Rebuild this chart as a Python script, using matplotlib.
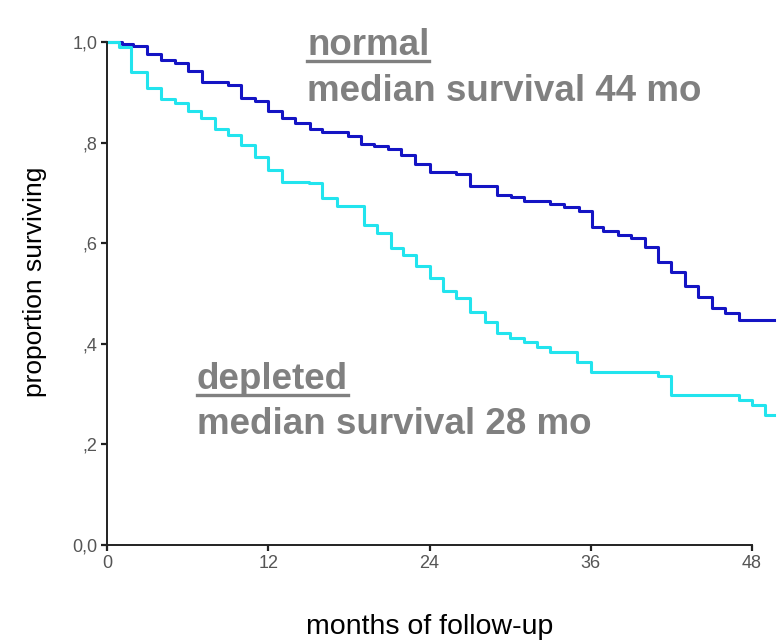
import matplotlib
matplotlib.use('Agg')
import matplotlib.pyplot as plt
from matplotlib.lines import Line2D

# Kaplan-Meier steps (months, proportion surviving)
normal_t = [0, 1.1, 1.9, 2.95, 4.0, 5.05, 6.0, 7.05, 9.0, 10.0, 11.0, 12.0, 13.0, 14.0,
            15.1, 16.0, 17.9, 18.9, 19.9, 20.9, 21.9, 22.9, 24.0, 26.0, 27.0, 29.0, 30.1,
            31.0, 33.0, 34.0, 35.1, 36.1, 36.9, 38.0, 39.0, 40.0, 41.0, 42.0, 43.0, 44.0,
            45.0, 46.0, 47.0, 49.6]
normal_s = [1.0, 0.997, 0.993, 0.977, 0.964, 0.958, 0.943, 0.921, 0.914, 0.888, 0.883, 0.862,
            0.848, 0.838, 0.828, 0.822, 0.813, 0.798, 0.793, 0.787, 0.775, 0.757, 0.741, 0.738,
            0.714, 0.696, 0.691, 0.684, 0.678, 0.671, 0.665, 0.633, 0.625, 0.616, 0.610, 0.592,
            0.563, 0.543, 0.514, 0.494, 0.471, 0.461, 0.447, 0.447]

depleted_t = [0, 0.9, 1.8, 3.0, 4.0, 5.05, 6.05, 7.0, 8.0, 9.0, 10.0, 11.0, 12.0, 13.0, 15.0,
              16.0, 17.1, 19.1, 20.1, 21.1, 22.0, 23.0, 24.0, 25.0, 26.0, 27.0, 28.1, 29.0,
              30.0, 31.0, 32.0, 33.0, 35.0, 36.0, 41.0, 42.0, 47.0, 48.0, 49.0, 49.6]
depleted_s = [1.0, 0.991, 0.941, 0.908, 0.886, 0.879, 0.862, 0.848, 0.828, 0.815, 0.795, 0.772,
              0.746, 0.722, 0.719, 0.689, 0.673, 0.636, 0.620, 0.590, 0.577, 0.555, 0.531, 0.504,
              0.491, 0.464, 0.444, 0.421, 0.411, 0.404, 0.394, 0.384, 0.364, 0.344, 0.335, 0.298,
              0.288, 0.278, 0.258, 0.258]

x_ticks = [0, 12, 24, 36, 48]
y_ticks = [0.0, 0.2, 0.4, 0.6, 0.8, 1.0]
y_labels = ['0,0', ',2', ',4', ',6', ',8', '1,0']

W, H = 782, 644
narrow = ['Liberation Sans Narrow', 'Liberation Sans', 'DejaVu Sans']
bold = ['Liberation Sans', 'DejaVu Sans']

fig = plt.figure(figsize=(W / 100, H / 100), dpi=100)
ax = fig.add_axes([107 / W, (H - 545) / H, (752 - 107) / W, (545 - 42) / H])

ax.plot(normal_t, normal_s, drawstyle='steps-post', color='#1414c4', lw=2.2, clip_on=False)
ax.plot(depleted_t, depleted_s, drawstyle='steps-post', color='#22e4ee', lw=2.2, clip_on=False)

ax.set_xlim(0, 48)
ax.set_ylim(0, 1)
ax.spines['top'].set_visible(False)
ax.spines['right'].set_visible(False)
for s in ['left', 'bottom']:
    ax.spines[s].set_linewidth(1.4)
    ax.spines[s].set_color('#222222')

ax.set_xticks(x_ticks)
ax.set_xticklabels([str(v) for v in x_ticks], family=narrow, fontsize=13)
ax.set_yticks(y_ticks)
ax.set_yticklabels(y_labels, family=narrow, fontsize=13)
ax.tick_params(direction='out', length=4, width=1.6, colors='#222222', pad=3)
for lab in ax.get_xticklabels() + ax.get_yticklabels():
    lab.set_color('#555555')

fig.text(35 / W, (H - 282) / H, 'proportion surviving', rotation=90, ha='center', va='center',
         family=narrow, fontsize=19)
fig.text(430 / W, (H - 627) / H, 'months of follow-up', ha='center', va='center',
         family=narrow, fontsize=20.5)

grey = '#808080'

def label(x, y_head, y_med, head, med):
    t = fig.text(x / W, (H - y_head) / H, head, ha='left', va='baseline', family=bold,
                 fontsize=26.5, fontweight='bold', color=grey)
    fig.text(x / W, (H - y_med) / H, med, ha='left', va='baseline', family=bold,
             fontsize=26.5, fontweight='bold', color=grey)
    fig.canvas.draw()
    bb = t.get_window_extent()
    uy = (H - y_head - 6) / H
    fig.add_artist(Line2D([bb.x0 / W, bb.x1 / W], [uy, uy], transform=fig.transFigure,
                          color=grey, lw=2.4))

label(307, 55, 101, 'normal', 'median survival 44 mo')
label(197, 389, 434, 'depleted', 'median survival 28 mo')

fig.savefig('out.png', dpi=100)
